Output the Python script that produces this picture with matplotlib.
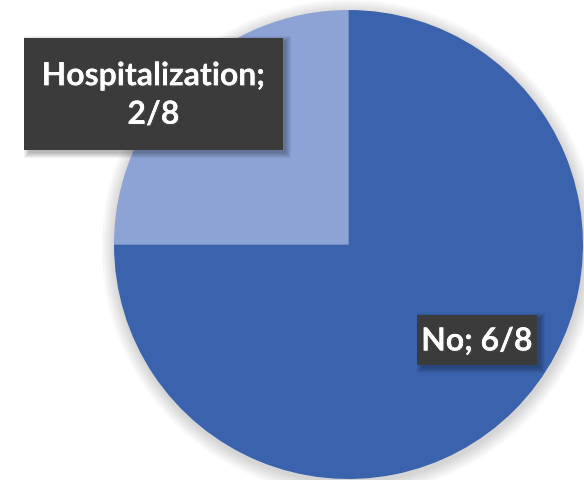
import numpy as np
import matplotlib.pyplot as plt
from matplotlib.patches import Circle, FancyBboxPatch
import matplotlib.patheffects as pe

# data
labels = ["Hospitalization", "No"]
values = [2, 6]
total = 8
colors = ["#8da2d5", "#3a62ad"]

W, H = 584, 480
fig = plt.figure(figsize=(W / 100, H / 100), dpi=100)
ax = fig.add_axes([0, 0, 1, 1])
ax.set_xlim(0, W)
ax.set_ylim(0, H)
ax.set_aspect("equal")
ax.axis("off")

cx, cy, r = 348.5, H - 244.5, 234.5

# soft shadow around the pie
for i in range(14):
    ax.add_patch(Circle((cx + 1, cy - 3), r + 14 - i, color="black",
                        alpha=0.012, lw=0, zorder=1))

wedges, _ = ax.pie(values, colors=colors, startangle=90, counterclock=True,
                   center=(cx, cy), radius=r, frame=True,
                   wedgeprops=dict(linewidth=0))
for w in wedges:
    w.set_zorder(2)
ax.set_xlim(0, W)
ax.set_ylim(0, H)
ax.axis("off")

# label boxes (position in pixels of the reference)
boxes = [
    (24, 38, 259, 112, f"{labels[0]};\n{values[0]}/{total}"),
    (417, 315, 120, 50, f"{labels[1]}; {values[1]}/{total}"),
]
for x, y, bw, bh, txt in boxes:
    y0 = H - y - bh
    for i in range(6):
        ax.add_patch(FancyBboxPatch((x + 2 - i + 3, y0 - 3 - i), bw + 2 * i - 2, bh + 2 * i,
                                    boxstyle="square,pad=0", fc="black", ec="none",
                                    alpha=0.05, zorder=3))
    ax.add_patch(FancyBboxPatch((x, y0), bw, bh, boxstyle="square,pad=0",
                                fc="#3b3b3b", ec="none", zorder=4))
    ax.text(x + bw / 2, y0 + bh / 2 - 1, txt, ha="center", va="center",
            color="white", fontsize=23, fontweight="bold", family="Lato",
            linespacing=1.4, zorder=5,
            path_effects=[pe.withSimplePatchShadow(offset=(1, -1), alpha=0.5),
                          pe.Normal()])

fig.savefig("out.png", dpi=100)
